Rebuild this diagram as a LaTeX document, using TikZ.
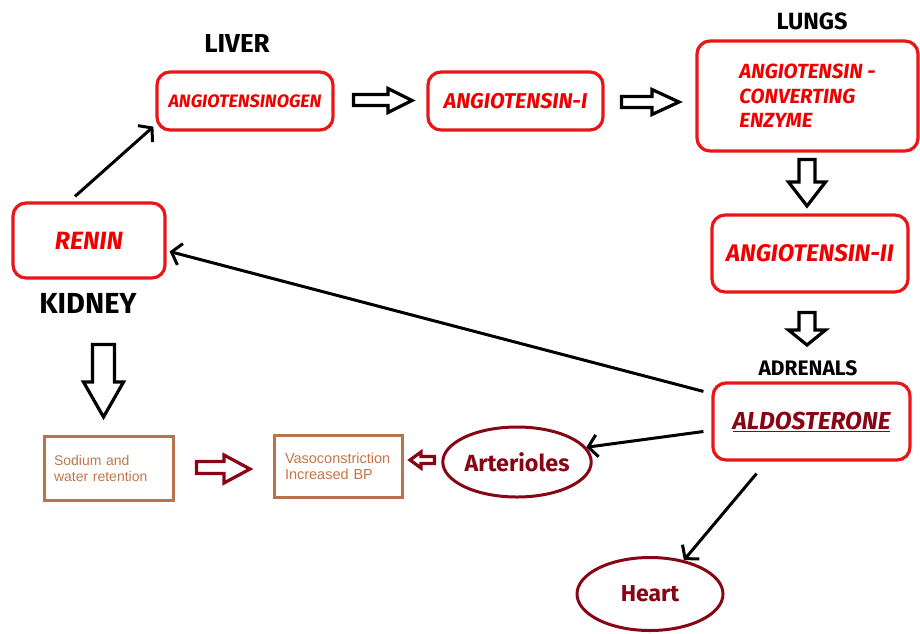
\documentclass[tikz,border=0pt]{standalone}
\usepackage{fontspec}
\setmainfont{Fira Sans}
\newfontfamily\arialfont{Liberation Sans}
\usetikzlibrary{arrows.meta,shapes.geometric}
\definecolor{boxred}{RGB}{232,22,22}
\definecolor{txtred}{RGB}{238,0,0}
\definecolor{darkred}{RGB}{135,5,20}
\definecolor{brownline}{RGB}{185,115,75}
\definecolor{browntext}{RGB}{195,118,72}

\begin{document}
\begin{tikzpicture}[x=1pt,y=-1pt,
    redbox/.style={draw=boxred, line width=3.2pt, rounded corners=13pt, text=txtred, font=\bfseries\itshape, inner sep=0pt},
    brownbox/.style={draw=brownline, line width=3pt, text=browntext, align=left, inner sep=10pt},
    organ/.style={draw=darkred, line width=3pt, ellipse, text=darkred, inner sep=0pt},
    place/.style={font=\bfseries},
    hollow/.style={draw, line width=3.2pt, fill=white, line join=miter},
    pointer/.style={line width=3pt, -{Straight Barb[length=9pt,width=22pt]}}]
    \useasboundingbox (0,0) rectangle (920,633);
    % places
    \node[place, font=\bfseries\fontsize{26}{28}\selectfont] (liver) at (237,43) {LIVER};
    \node[place, font=\bfseries\fontsize{23.5}{26}\selectfont] (lungs) at (812,21) {LUNGS};
    \node[place, font=\bfseries\fontsize{29}{32}\selectfont] (kidney) at (88,303) {KIDNEY};
    \node[place, font=\bfseries\fontsize{21}{24}\selectfont] (adrenals) at (808,368) {ADRENALS};
    % red boxes
    \node[redbox, minimum width=176pt, minimum height=58pt, font=\bfseries\itshape\fontsize{18}{20}\selectfont] (ogen) at (245,101) {ANGIOTENSINOGEN};
    \node[redbox, minimum width=175pt, minimum height=58pt, font=\bfseries\itshape\fontsize{21.4}{24}\selectfont] (angone) at (515.5,101) {ANGIOTENSIN-I};
    \node[redbox, minimum width=221pt, minimum height=110pt, align=left, font=\bfseries\itshape\fontsize{20.5}{24.5}\selectfont] (ace) at (807.5,96) {ANGIOTENSIN -\\CONVERTING\\ENZYME\hspace{40pt}};
    \node[redbox, minimum width=196pt, minimum height=77pt, font=\bfseries\itshape\fontsize{24}{26}\selectfont] (angtwo) at (810,253.5) {ANGIOTENSIN-II};
    \node[redbox, minimum width=197pt, minimum height=77pt, text=darkred, font=\bfseries\itshape\fontsize{24.5}{26}\selectfont] (aldo) at (811.5,421.5) {\underline{ALDOSTERONE}};
    \node[redbox, minimum width=152pt, minimum height=75pt, font=\bfseries\itshape\fontsize{25}{28}\selectfont] (renin) at (89,240.5) {RENIN\hspace{14pt}};
    % brown boxes
    \node[brownbox, text width=109pt, minimum height=64pt, font=\arialfont\fontsize{14}{16}\selectfont] (sodium) at (108.5,468) {Sodium and\\water retention};
    \node[brownbox, text width=106pt, inner xsep=11pt, minimum height=62pt, font=\arialfont\fontsize{14.5}{16}\selectfont] (vaso) at (338,466) {Vasoconstriction\\Increased BP\\[2pt]};
    % organs
    \node[organ, minimum width=146pt, minimum height=70pt, font=\bfseries\fontsize{23.3}{26}\selectfont] (arter) at (517,462) {Arterioles};
    \node[organ, minimum width=146pt, minimum height=73pt, font=\bfseries\fontsize{23}{26}\selectfont] (heart) at (650,594) {Heart};
    % block arrows
    \draw[hollow] (353.5,94.5) -- (388,94.5) -- (388,88.5) -- (412,100.5) -- (388,112.5) -- (388,105.5) -- (353.5,105.5) -- cycle;
    \draw[hollow] (621.5,96.5) -- (652,96.5) -- (652,89.5) -- (679,102) -- (652,114.5) -- (652,107.5) -- (621.5,107.5) -- cycle;
    \draw[hollow] (799,159.5) -- (815,159.5) -- (815,182) -- (825.5,182) -- (807,206) -- (788.5,182) -- (799,182) -- cycle;
    \draw[hollow] (799,312.5) -- (815,312.5) -- (815,330) -- (825.5,330) -- (807,345) -- (788.5,330) -- (799,330) -- cycle;
    \draw[hollow] (92.5,344.5) -- (114.5,344.5) -- (114.5,382) -- (123.5,382) -- (103.5,417) -- (83.5,382) -- (92.5,382) -- cycle;
    \draw[hollow, draw=darkred] (196.5,461.5) -- (224,461.5) -- (224,455) -- (250,469) -- (224,483) -- (224,473.5) -- (196.5,473.5) -- cycle;
    \draw[hollow, draw=darkred] (434.5,456.5) -- (421,456.5) -- (421,452) -- (410,460) -- (421,468) -- (421,463.5) -- (434.5,463.5) -- cycle;
    % connectors
    \draw[pointer] ([xshift=-14pt,yshift=5pt]renin.north) -- ([xshift=-2pt,yshift=5pt]ogen.south west);
    \draw[pointer] ([xshift=-8pt,yshift=-10pt]aldo.north west) -- ([xshift=3pt,yshift=-11pt]renin.east);
    \draw[pointer] ([xshift=-8pt,yshift=-10pt]aldo.west) -- (arter.12);
    \draw[pointer] ([xshift=-55pt,yshift=-12pt]aldo.south) -- (heart.45);
\end{tikzpicture}
\end{document}
